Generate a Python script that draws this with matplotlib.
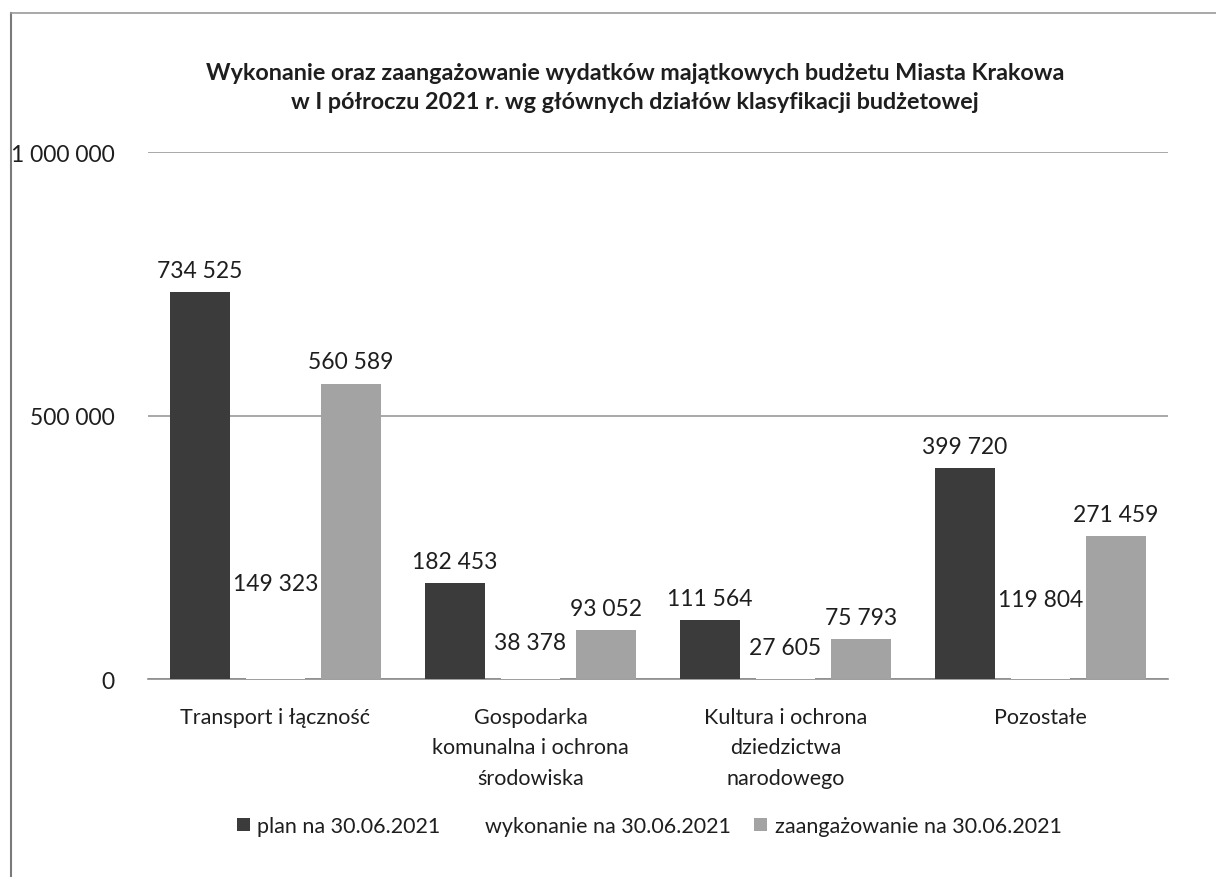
import numpy as np
import matplotlib
matplotlib.use('Agg')
import matplotlib.pyplot as plt
from matplotlib.lines import Line2D
from matplotlib.patches import Patch

# Dane z wykresu (tys. zł)
categories = ['Transport i łączność',
              'Gospodarka\nkomunalna i ochrona\nśrodowiska',
              'Kultura i ochrona\ndziedzictwa\nnarodowego',
              'Pozostałe']
plan = [734525, 182453, 111564, 399720]
wykonanie = [149323, 38378, 27605, 119804]
zaangazowanie = [560589, 93052, 75793, 271459]
series_names = ['plan na 30.06.2021', 'wykonanie na 30.06.2021',
                'zaangażowanie na 30.06.2021']

plt.rcParams['font.family'] = ['Lato', 'DejaVu Sans']

def fmt(v):
    return f'{v:,}'.replace(',', ' ')

fig = plt.figure(figsize=(12.16, 8.78), dpi=100)
ax = fig.add_axes([0.1217, 0.2255, 0.8388, 0.6002])

x = np.arange(len(categories))
step = 0.296
width = 0.235
colors = ['#3b3b3b', '#ffffff', '#a3a3a3']

for i, (vals, col) in enumerate(zip([plan, wykonanie, zaangazowanie], colors)):
    pos = x + (i - 1) * step
    ax.bar(pos, vals, width=width, color=col, edgecolor='none', zorder=3)
    for p, v in zip(pos, vals):
        if i == 1:
            ax.annotate(fmt(v), xy=(p, v), xytext=(0, 12), textcoords='offset points',
                        ha='center', va='center', fontsize=16.5, color='#1e1e1e')
        else:
            ax.annotate(fmt(v), xy=(p, v), xytext=(0, 8), textcoords='offset points',
                        ha='center', va='bottom', fontsize=16.5, color='#1e1e1e')

ax.set_xlim(-0.5, len(categories) - 0.5)
ax.set_ylim(0, 1000000)
ax.set_yticks([0, 500000, 1000000])
ax.set_yticklabels([fmt(v) for v in [0, 500000, 1000000]], fontsize=16.5, color='#1e1e1e')
ax.yaxis.grid(True, color='#9a9a9a', linewidth=1.2, zorder=0)
ax.set_xticks(x)
ax.set_xticklabels(categories, fontsize=15.5, color='#1e1e1e', linespacing=1.65, va='top')
ax.tick_params(axis='both', length=0)
ax.tick_params(axis='x', pad=20)
ax.tick_params(axis='y', pad=24)
for s in ['top', 'right', 'left']:
    ax.spines[s].set_visible(False)
ax.spines['bottom'].set_color('#8c8c8c')
ax.spines['bottom'].set_linewidth(1.2)

fig.text(0.522, 0.9, 'Wykonanie oraz zaangażowanie wydatków majątkowych budżetu Miasta Krakowa\n'
         'w I półroczu 2021 r. wg głównych działów klasyfikacji budżetowej',
         ha='center', va='center', fontsize=16.8, fontweight='bold', color='#1e1e1e',
         linespacing=1.45)

handles = [Patch(facecolor=c, edgecolor='none') for c in colors]
leg = fig.legend(handles, series_names, loc='center', bbox_to_anchor=(0.534, 0.058),
                 ncol=3, frameon=False, fontsize=15.5, handlelength=0.6, handleheight=0.6,
                 handletextpad=0.35, columnspacing=1.1)
for t in leg.get_texts():
    t.set_color('#1e1e1e')

# ramka wykresu (lewa i górna krawędź)
fig.add_artist(Line2D([0.009, 0.009], [0.0, 0.984], color='#7a7a7a', linewidth=1.5))
fig.add_artist(Line2D([0.009, 1.0], [0.984, 0.984], color='#9a9a9a', linewidth=1.2))

fig.savefig('out.png', dpi=100)
